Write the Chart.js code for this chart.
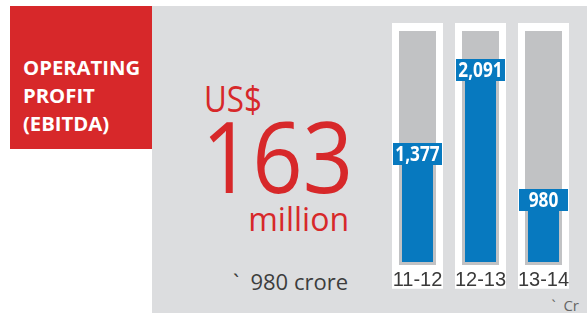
<!DOCTYPE html>
<html>
<head>
<meta charset="utf-8">
<script src="https://cdn.jsdelivr.net/npm/chart.js@4.4.1/dist/chart.umd.min.js"></script>
<style>
  html, body { margin: 0; padding: 0; background: #ffffff; }
  #wrap { position: relative; width: 587px; height: 313px; overflow: hidden; background: #ffffff; }
  #panel { position: absolute; left: 152px; top: 6px; width: 435px; height: 307px; background: #DCDDDF; }
  #redbox { position: absolute; left: 10px; top: 6px; width: 142px; height: 143px; background: #D7282A; }
  .t { position: absolute; white-space: nowrap; line-height: 1; font-family: "Open Sans", sans-serif; }
  #head { left: 23px; top: 53px; color: #ffffff; font-weight: 700; font-size: 20.3px; line-height: 28px; }
  #usd { left: 204px; top: 81px; color: #D7282A; font-size: 36px; transform: scaleX(0.87); transform-origin: left center; }
  #big { right: 234px; top: 106px; color: #D7282A; font-size: 98px; transform: scaleX(0.9); transform-origin: right center; }
  #mil { right: 238px; top: 203px; color: #D7282A; font-size: 32px; }
  #crore { right: 239px; top: 270px; color: #3d3d3d; font-size: 22px; }
  #unit { right: 8px; top: 298px; color: #666666; font-size: 15px; }
  canvas { position: absolute; left: 0; top: 0; }
</style>
</head>
<body>
<div id="wrap">
  <div id="panel"></div>
  <div id="redbox"></div>
  <div class="t" id="head">OPERATING<br>PROFIT<br>(EBITDA)</div>
  <div class="t" id="usd">US$</div>
  <div class="t" id="big">163</div>
  <div class="t" id="mil">million</div>
  <div class="t" id="crore">`&nbsp; 980 crore</div>
  <div class="t" id="unit">`&nbsp; Cr</div>
  <canvas id="c" width="587" height="313"></canvas>
</div>
<script>
// ---- data ----
const categories = ['11-12', '12-13', '13-14'];
const ebitdaCrore = [1377, 2091, 980];
const valueLabels = ['1,377', '2,091', '980'];

// ---- scale constants (infographic baseline is not zero) ----
const Y_MIN = 420;
const Y_MAX = 2430;
const BAR_BASE = 445;
const PANEL_LOW = 216;
const PANEL_HIGH = 2498;

const BLUE = '#0779BF';
const TRACK = '#C1C2C4';

const valueBoxes = {
  id: 'valueBoxes',
  afterDatasetsDraw(chart) {
    const meta = chart.getDatasetMeta(0);
    const ctx = chart.ctx;
    ctx.save();
    meta.data.forEach((el, i) => {
      const w = 49, h = 22;
      ctx.fillStyle = BLUE;
      ctx.fillRect(Math.round(el.x - w / 2), Math.round(el.y - h / 2), w, h);
      ctx.save();
      ctx.translate(el.x, el.y + 1);
      ctx.scale(0.82, 1);
      ctx.fillStyle = '#ffffff';
      ctx.font = 'bold 21px "Open Sans", sans-serif';
      ctx.textAlign = 'center';
      ctx.textBaseline = 'middle';
      ctx.fillText(valueLabels[i], 0, 0);
      ctx.restore();
    });
    ctx.restore();
  }
};

new Chart(document.getElementById('c'), {
  type: 'bar',
  data: {
    labels: categories,
    datasets: [
      {
        label: 'EBITDA',
        data: ebitdaCrore.map(v => [BAR_BASE, v]),
        backgroundColor: BLUE,
        barPercentage: 31 / 63,
        categoryPercentage: 1,
        grouped: false,
        borderWidth: 0
      },
      {
        label: 'track',
        data: categories.map(() => [Y_MIN, Y_MAX]),
        backgroundColor: TRACK,
        barPercentage: 37 / 63,
        categoryPercentage: 1,
        grouped: false,
        borderWidth: 0
      },
      {
        label: 'panel',
        data: categories.map(() => [PANEL_LOW, PANEL_HIGH]),
        backgroundColor: '#ffffff',
        barPercentage: 51 / 63,
        categoryPercentage: 1,
        grouped: false,
        borderWidth: 0,
        clip: false
      }
    ]
  },
  options: {
    responsive: false,
    animation: false,
    devicePixelRatio: 1,
    layout: { padding: { left: 386, right: 12, top: 31, bottom: 18 } },
    plugins: { legend: { display: false }, tooltip: { enabled: false }, title: { display: false } },
    scales: {
      x: {
        grid: { display: false, drawTicks: false },
        border: { display: false },
        ticks: {
          z: 1,
          padding: 3,
          maxRotation: 0,
          autoSkip: false,
          color: '#3a3a3a',
          font: { family: '"Liberation Sans Narrow", "Liberation Sans", sans-serif', size: 20 }
        }
      },
      y: {
        display: false,
        min: Y_MIN,
        max: Y_MAX
      }
    }
  },
  plugins: [valueBoxes]
});
</script>
</body>
</html>
